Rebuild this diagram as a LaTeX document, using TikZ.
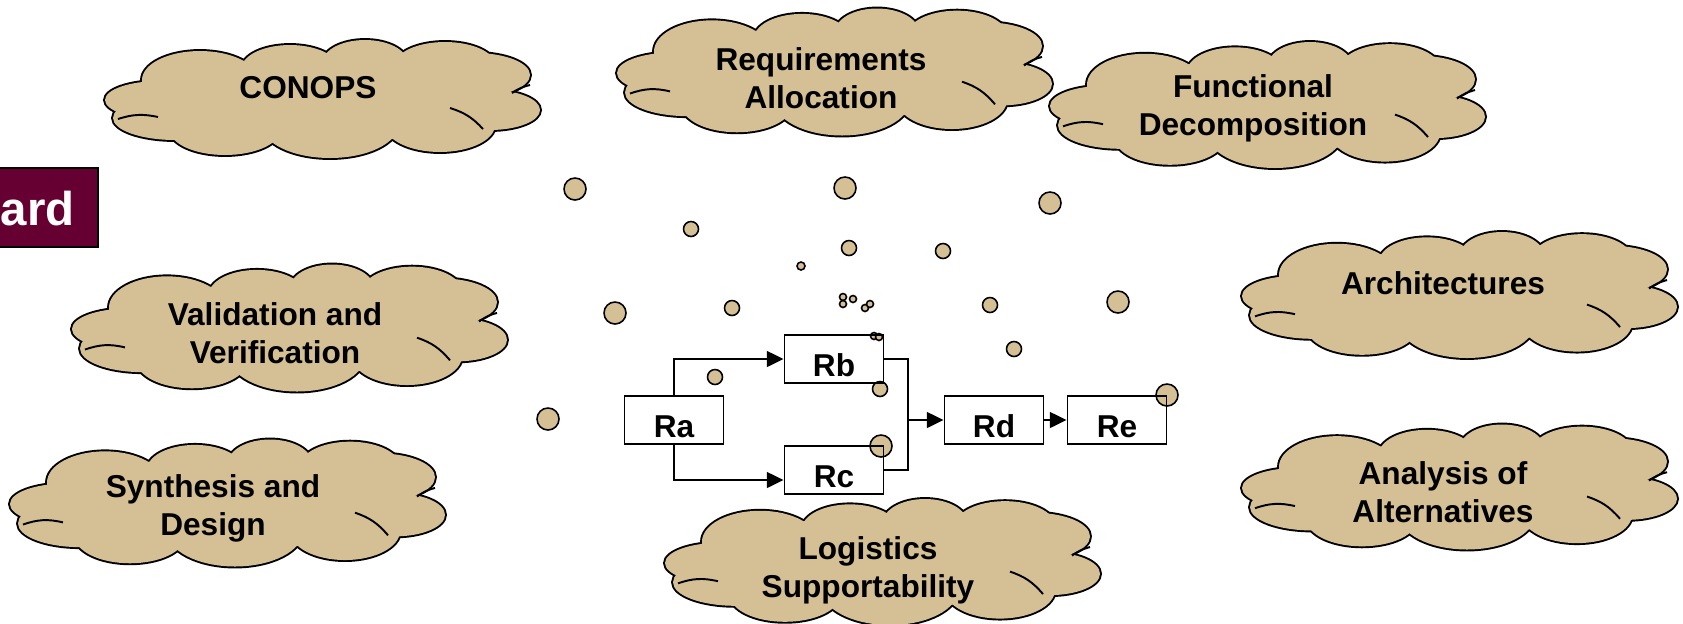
\documentclass[tikz,border=0pt]{standalone}
\usepackage{fontspec}
\setmainfont{Liberation Sans}
\usepackage{tikz}
\usetikzlibrary{arrows.meta}
\definecolor{cloudtan}{RGB}{212,192,148}
\definecolor{titlemaroon}{RGB}{102,0,51}
% lumps of one cloud: dx/dy/rx/ry around its centre
\newcommand{\cloudlumps}{-163/1/55/19, -148/19/62/22, -98/31/55/25, 7/26/68/33, 117/26/55/27, 167/11/50/20,
    152/-24/55/22, 122/-34/50/23, 42/-37/42/22, -33/-31/48/23, -123/-19/58/29, 0/0/150/45}

\begin{document}
\begin{tikzpicture}[x=0.02cm, y=-0.02cm,
                cloudtext/.style={font=\fontsize{18}{21.5}\selectfont\bfseries, align=center}, % cloud labels
                reqbox/.style={rectangle, draw, line width=1.1pt, minimum width=1.98cm, minimum height=0.97cm, text height=19.5pt, text depth=0pt, inner ysep=0pt, font=\fontsize{18}{21}\selectfont\bfseries}, % requirement boxes
                bubble/.style={draw, line width=0.9pt, fill=cloudtan}, % small circles
                flow/.style={-{Triangle[length=9.5pt, width=9pt]}, line width=1.1pt} % arrows between boxes
                ]
                \useasboundingbox (0,0) rectangle (1683,623);
                \clip (0,0) rectangle (1683,623);

                % clouds: outline first, then fill over the inner strokes
                \foreach \cx/\cy/\h in {323/99/118, 835/72/127, 1268/105/126, 1460/295/126, 1460/487/125, 290/328/127, 228/503/127, 883/562/126} {
                    \begin{scope}[shift={(\cx,\cy)}, yscale=\h/118]
                        \foreach \dx/\dy/\rx/\ry in \cloudlumps
                            \draw[line width=2.2pt] (\dx,\dy) ellipse[x radius=\rx, y radius=\ry];
                        \foreach \dx/\dy/\rx/\ry in \cloudlumps
                            \fill[cloudtan] (\dx,\dy) ellipse[x radius=\rx, y radius=\ry];
                        \draw[line width=1.1pt] (-205,20) to[bend left=15] (-165,18);
                        \draw[line width=1.1pt] (127,9) to[bend left=15] (160,30);
                        \draw[line width=1.1pt] (189,-6) to[bend left=10] (207,-14);
                    \end{scope}
                }

                \node[cloudtext] (conopst) at (308,88) {CONOPS};
                \node[cloudtext] (reqallt) at (821,78) {Requirements\\Allocation};
                \node[cloudtext] (funcdect) at (1253,108) {Functional\\Decomposition};
                \node[cloudtext] (archst) at (1443,283) {Architectures};
                \node[cloudtext] (aoat) at (1443,492) {Analysis of\\Alternatives};
                \node[cloudtext] (valvert) at (275,333) {Validation and\\Verification};
                \node[cloudtext] (syndest) at (213,508) {Synthesis and\\Design};
                \node[cloudtext] (logsupt) at (868,570) {Logistics\\Supportability};

                % title bar
                \node[draw, line width=1.1pt, fill=titlemaroon, minimum width=2.36cm, minimum height=1.58cm, inner sep=0pt] (title) at (39,207.5) {};
                \node[anchor=base east, text=white, font=\fontsize{27}{30}\selectfont\bfseries, inner sep=0pt] (titletext) at (75,225) {ard};

                % bubbles
                \foreach \x/\y/\r in {575/189/11, 845/188/11, 1050/203/11, 691/229/7.5, 849/248/7.5, 943/251/7.5,
                    801/266/4, 615/313/11, 732/308/7.5, 843/297/3.5, 843/304/3.5, 853/299/3.5, 865/308/3.5,
                    870/304/3.5, 990/305/7.5, 1118/302/11, 1014/349/7.5, 715/377/7.5, 548/419/11, 874/336/3.5,
                    879/337/3.5, 880/389/7.5, 881/446/11, 1167/395/11}
                    \draw[bubble] (\x,\y) circle[radius=\r];

                % requirement flow
                \node[reqbox] (ra) at (674,420) {Ra};
                \node[reqbox] (rb) at (834,359) {Rb};
                \node[reqbox] (rc) at (834,470) {Rc};
                \node[reqbox] (rd) at (994,420) {Rd};
                \node[reqbox] (re) at (1117,420) {Re};
                \coordinate (join) at (908,420);

                \draw[flow] (ra.north) |- (rb.west);
                \draw[flow] (ra.south) |- ([yshift=-0.2cm]rc.west);
                \draw[line width=1.1pt] (rb.east) -| (join) |- (rc.east);
                \draw[flow] (join) -- (rd.west);
                \draw[flow] (rd) -- (re);
            \end{tikzpicture}
\end{document}
